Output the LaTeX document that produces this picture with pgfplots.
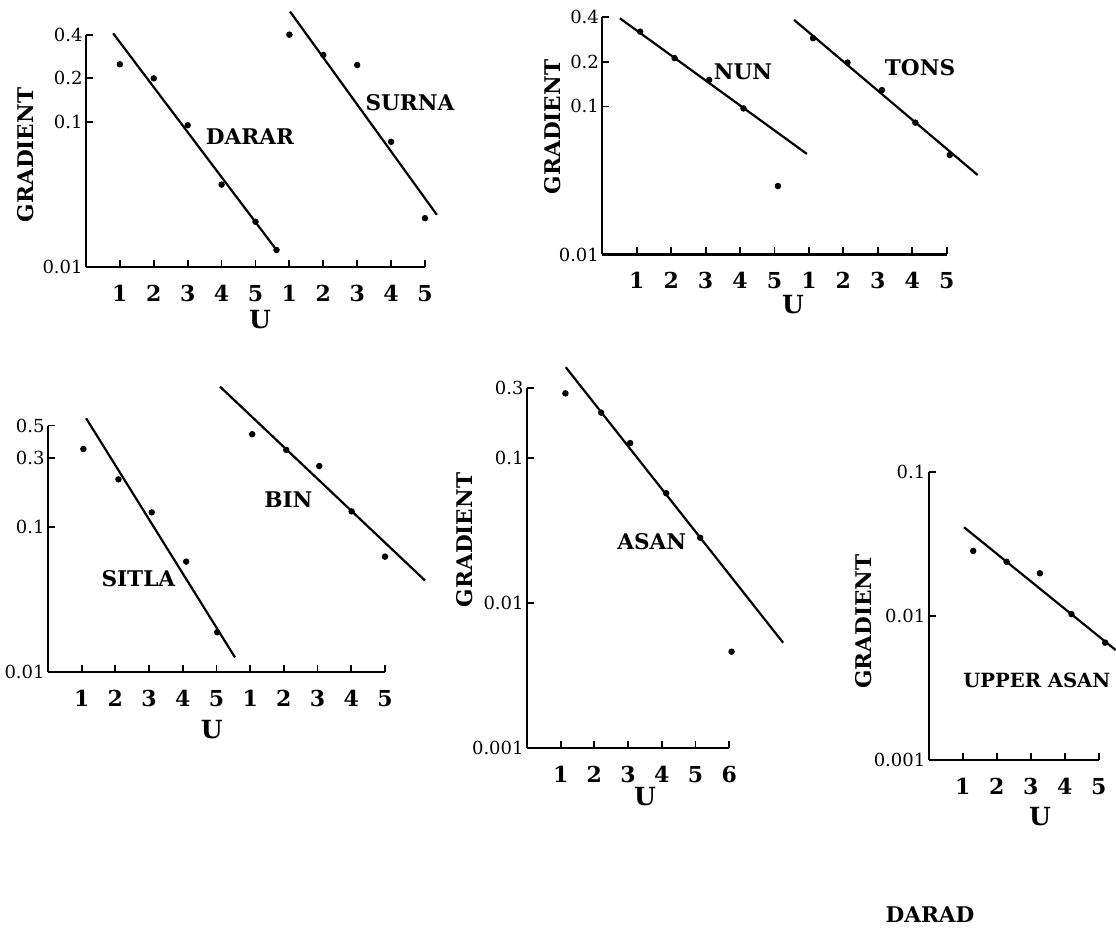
\documentclass[border=0pt]{standalone}
\usepackage{fontspec}
\setmainfont{DejaVu Serif}
\usepackage{pgfplots}
\pgfplotsset{compat=1.18}
\pgfplotsset{
  panel/.style={
    scale only axis, clip=false,
    axis x line=bottom, axis y line=left,
    axis line style={-, line width=1.1pt},
    tick style={black, line width=0.9pt},
    major tick length=3.5pt,
    tick align=inside,
    yminorticks=false,
    xtick={1,...,10}, xticklabels={1,2,3,4,5,1,2,3,4,5},
    yticklabel style={font=\fontsize{9}{10}\selectfont, inner sep=1.5pt},
    xticklabel style={font=\bfseries\fontsize{11}{12}\selectfont, yshift=-5.5pt},
    anchor=south west,
  },
  ln/.style={black, line width=1.1pt, no marks},
  pts/.style={only marks, mark=*, mark size=1.4pt, black},
}
\newcommand{\lab}{\bfseries\fontsize{10.8}{12}\selectfont}
\newcommand{\ulab}{\bfseries\fontsize{12.5}{14}\selectfont}
\begin{document}
\begin{tikzpicture}
\path[use as bounding box] (0,0) rectangle (558pt,465.5pt);

% ---------- DARAR / SURNA ----------
\begin{axis}[ymode=log, panel, at={(43pt,332pt)}, width=169.5pt, height=116.15pt,
  xmin=0, xmax=10, ymin=0.01, ymax=0.4,
  ytick={0.01,0.1,0.2,0.4}, yticklabels={0.01,0.1,0.2,0.4}]
\addplot[ln] coordinates {(0.80,0.409) (5.62,0.0131)};
\addplot[pts] coordinates {(1,0.25) (2,0.2) (3,0.095) (4,0.037) (5,0.0205) (5.62,0.0131)};
\addplot[ln] coordinates {(6.02,0.577) (10.35,0.0229)};
\addplot[pts] coordinates {(6,0.40) (7,0.29) (8,0.247) (9,0.073) (10,0.0217)};
\end{axis}
\node[rotate=90,font=\lab] at (13pt,388pt) {GRADIENT};
\node[font=\lab] at (125pt,397pt) {DARAR};
\node[font=\lab] at (205pt,414pt) {SURNA};
\node[font=\ulab] at (130pt,305.5pt) {U};

% ---------- NUN / TONS ----------
\begin{axis}[ymode=log, panel, at={(301.15pt,338.25pt)}, width=172.2pt, height=118.6pt,
  xmin=0, xmax=10, ymin=0.01, ymax=0.4,
  ytick={0.01,0.1,0.2,0.4}, yticklabels={0.01,0.1,0.2,0.4}]
\addplot[ln] coordinates {(0.51,0.394) (5.94,0.0478)};
\addplot[pts] coordinates {(1.1,0.32) (2.1,0.212) (3.1,0.151) (4.1,0.097) (5.1,0.029)};
\addplot[ln] coordinates {(5.57,0.384) (10.9,0.0344)};
\addplot[pts] coordinates {(6.12,0.289) (7.12,0.198) (8.12,0.129) (9.09,0.0777) (10.09,0.047)};
\end{axis}
\node[rotate=90,font=\lab] at (276.5pt,402pt) {GRADIENT};
\node[font=\lab] at (371.5pt,429.5pt) {NUN};
\node[font=\lab] at (460pt,431.5pt) {TONS};
\node[font=\ulab] at (396.5pt,313pt) {U};

% ---------- SITLA / BIN ----------
\begin{axis}[ymode=log, panel, at={(24pt,129.5pt)}, width=168.5pt, height=123.2pt,
  xmin=0, xmax=10, ymin=0.01, ymax=0.5,
  ytick={0.01,0.1,0.3,0.5}, yticklabels={0.01,0.1,0.3,0.5}]
\addplot[ln] coordinates {(1.13,0.562) (5.55,0.0126)};
\addplot[pts] coordinates {(1.05,0.345) (2.09,0.213) (3.08,0.126) (4.1,0.0577) (5.02,0.0188)};
\addplot[ln] coordinates {(5.1,0.93) (11.19,0.0427)};
\addplot[pts] coordinates {(6.06,0.436) (7.07,0.34) (8.05,0.263) (9.01,0.128) (10.0,0.0624)};
\end{axis}
\node[font=\lab] at (69.2pt,176.4pt) {SITLA};
\node[font=\lab] at (144.2pt,215.9pt) {BIN};
\node[font=\ulab] at (105.9pt,100.5pt) {U};

% ---------- ASAN ----------
\begin{axis}[ymode=log, panel, at={(263.5pt,91.35pt)}, width=101.1pt, height=180pt,
  xmin=0, xmax=6, ymin=0.001, ymax=0.3,
  xtick={1,...,6}, xticklabels={1,2,3,4,5,6},
  ytick={0.001,0.01,0.1,0.3}, yticklabels={0.001,0.01,0.1,0.3}]
\addplot[ln] coordinates {(1.15,0.419) (7.6,0.00533)};
\addplot[pts] coordinates {(1.14,0.277) (2.2,0.204) (3.06,0.126) (4.13,0.0569) (5.14,0.0281) (6.07,0.00462)};
\end{axis}
\node[rotate=90,font=\lab] at (232.5pt,195.5pt) {GRADIENT};
\node[font=\lab] at (325.9pt,194.7pt) {ASAN};
\node[font=\ulab] at (322.5pt,67pt) {U};

% ---------- UPPER ASAN ----------
\begin{axis}[ymode=log, panel, at={(464.35pt,85.5pt)}, width=85pt, height=144pt,
  xmin=0, xmax=5, ymin=0.001, ymax=0.1,
  xtick={1,...,5}, xticklabels={1,2,3,4,5},
  ytick={0.001,0.01,0.1}, yticklabels={0.001,0.01,0.1}]
\addplot[ln] coordinates {(1.04,0.0413) (5.5,0.0058)};
\addplot[pts] coordinates {(1.31,0.0283) (2.29,0.0238) (3.27,0.0198) (4.2,0.0103) (5.19,0.00653)};
\end{axis}
\node[rotate=90,font=\lab] at (431.7pt,154.7pt) {GRADIENT};
\node[font=\bfseries\fontsize{9.8}{11}\selectfont] at (518.4pt,125.5pt) {UPPER ASAN};
\node[font=\ulab] at (520pt,57pt) {U};
\node[font=\lab] at (465pt,8pt) {DARAD};
\end{tikzpicture}
\end{document}
